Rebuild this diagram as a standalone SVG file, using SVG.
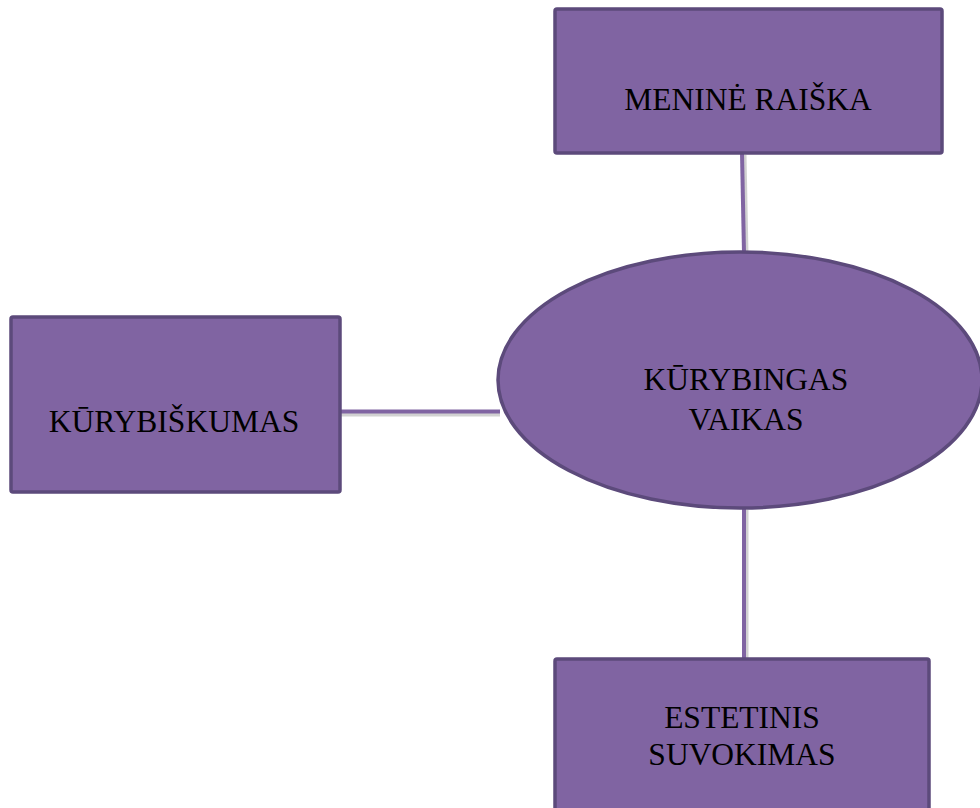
<svg xmlns="http://www.w3.org/2000/svg" width="980" height="808" viewBox="0 0 980 808">
<style>
.box{fill:#8064a2;stroke:#5c4a7b;stroke-width:3.5}
.lbl{font-family:"Liberation Serif","Times New Roman",serif;font-size:31.5px;fill:#000;text-anchor:middle}
.con{stroke:#8064a2;stroke-width:4;fill:none}
.sh{stroke:#000;stroke-opacity:0.18;stroke-width:4;fill:none}
</style>
<rect width="980" height="808" fill="#fff"/>
<g id="connectors">
<line class="sh" x1="744.5" y1="155" x2="746.5" y2="254"/>
<line class="con" x1="742" y1="153" x2="744" y2="253"/>
<line class="sh" x1="341" y1="414.5" x2="500" y2="414.5"/>
<line class="con" x1="340" y1="411.5" x2="500" y2="411.5"/>
<line class="sh" x1="746.5" y1="510" x2="746.5" y2="658"/>
<line class="con" x1="744" y1="508" x2="744" y2="659"/>
</g>
<g id="menine-raiska">
<rect class="box" x="555" y="9" width="387" height="144" rx="2"/>
<text class="lbl" x="748" y="110">MENINĖ RAIŠKA</text>
</g>
<g id="kurybiskumas">
<rect class="box" x="11" y="317" width="329" height="175" rx="2"/>
<text class="lbl" x="174" y="432">KŪRYBIŠKUMAS</text>
</g>
<g id="kurybingas-vaikas">
<ellipse class="box" cx="740" cy="380" rx="242" ry="128"/>
<text class="lbl" x="746" y="390">KŪRYBINGAS</text>
<text class="lbl" x="746" y="430">VAIKAS</text>
</g>
<g id="estetinis-suvokimas">
<rect class="box" x="555" y="659" width="374" height="160" rx="2"/>
<text class="lbl" x="742" y="728">ESTETINIS</text>
<text class="lbl" x="742" y="765">SUVOKIMAS</text>
</g>
</svg>
